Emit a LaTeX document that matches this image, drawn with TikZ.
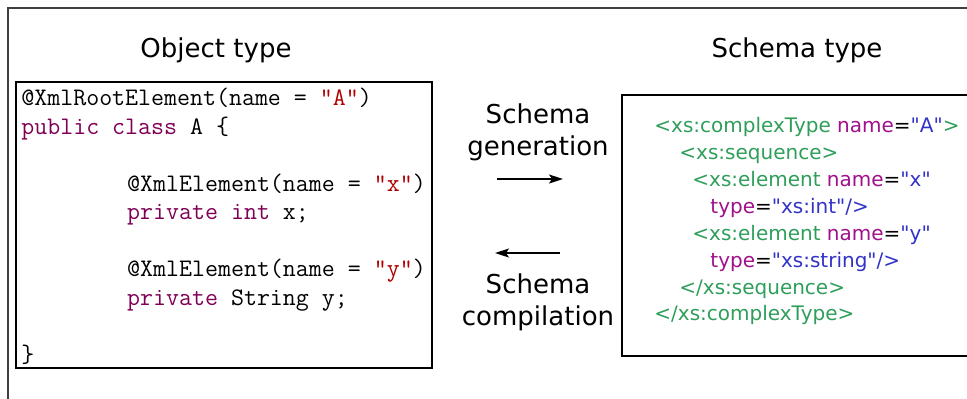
\documentclass[tikz,border=0pt]{standalone}
\usepackage{fontspec}
\setmainfont{DejaVu Sans}
\newfontfamily\xmlfont{DejaVu Sans}
\usepackage{tikz}
\usetikzlibrary{arrows.meta,positioning}
\definecolor{kwpurple}{HTML}{7F0055}
\definecolor{strred}{HTML}{B00000}
\definecolor{xmlgreen}{HTML}{2E9E5A}
\definecolor{attrpurple}{HTML}{A0108A}
\definecolor{valblue}{HTML}{3232C8}
\newcommand{\kw}[1]{\textcolor{kwpurple}{#1}}
\newcommand{\strlit}[1]{\textcolor{strred}{#1}}
\newcommand{\xtag}[1]{\textcolor{xmlgreen}{#1}}
\newcommand{\xattr}[1]{\textcolor{attrpurple}{#1}}
\newcommand{\xval}[1]{\textcolor{valblue}{"#1"}}
\newcommand{\codeind}{\hspace*{4.2em}}
\tikzset{
    %Define standard arrow tip
    >={Stealth[length=7pt,width=4.5pt,inset=1.5pt]},
    %Define style for titles
    heading/.style={
           inner sep=0pt,
           font=\fontsize{13}{16}\selectfont},
    steplabel/.style={
           inner sep=0pt,
           align=center,
           font=\fontsize{13}{16}\selectfont},
    %Define style for boxes
    frame/.style={
           draw=black!75,
           line width=0.8pt},
    box/.style={
           draw=black,
           line width=0.8pt},
    javacode/.style={
           inner sep=0pt,
           align=left,
           font=\ttfamily\fontsize{12.6}{14.25}\selectfont},
    xmlcode/.style={
           inner sep=0pt,
           align=left,
           font=\xmlfont\fontsize{10}{13.45}\selectfont},
    % Define arrow style
    pil/.style={
           ->,
           line width=0.7pt}
}
\begin{document}
\begin{tikzpicture}[x=0.5pt,y=-0.5pt]
\useasboundingbox (0,0) rectangle (967,398);
 %frame and boxes
\draw[frame] (980,8) -- (8,8) -- (8,410);
\draw[box] (16,82) rectangle (432,368);
\draw[box] (980,95) -- (622,95) -- (622,356) -- (980,356);
 %titles
\node[heading, anchor=base] (objtitle) at (216,57) {Object type};
\node[heading, anchor=base] (schematitle) at (797,57) {Schema type};
 %code
\node[javacode, anchor=north west] (javaclass) at (21,88) {%
@XmlRootElement(name = \strlit{"A"})\\
\kw{public class} A \{\\
\mbox{}\\
\codeind @XmlElement(name = \strlit{"x"})\\
\codeind \kw{private int} x;\\
\mbox{}\\
\codeind @XmlElement(name = \strlit{"y"})\\
\codeind \kw{private} String y;\\
\mbox{}\\
\}};
\node[xmlcode, anchor=north west] (xsdtype) at (654,117) {%
\xtag{<xs:complexType} \xattr{name}=\xval{A}\xtag{>}\\
\hspace*{12.5pt}\xtag{<xs:sequence>}\\
\hspace*{19pt}\xtag{<xs:element} \xattr{name}=\xval{x}\\
\hspace*{28pt}\xattr{type}=\xval{xs:int}\textcolor{valblue}{/>}\\
\hspace*{19pt}\xtag{<xs:element} \xattr{name}=\xval{y}\\
\hspace*{28pt}\xattr{type}=\xval{xs:string}\textcolor{valblue}{/>}\\
\hspace*{12.5pt}\xtag{</xs:sequence>}\\
\xtag{</xs:complexType>}};
 %arrows
\node[steplabel, anchor=north] (gen) at (538,103) {Schema\\generation};
\node[steplabel, anchor=north] (comp) at (538,273) {Schema\\compilation};
\coordinate (genstart) at (497,179);
\coordinate (genend) at (563,179);
\coordinate (compstart) at (560,253);
\coordinate (compend) at (495,253);
\draw[pil] (genstart) -- (genend);
\draw[pil] (compstart) -- (compend);
\end{tikzpicture}
\end{document}
